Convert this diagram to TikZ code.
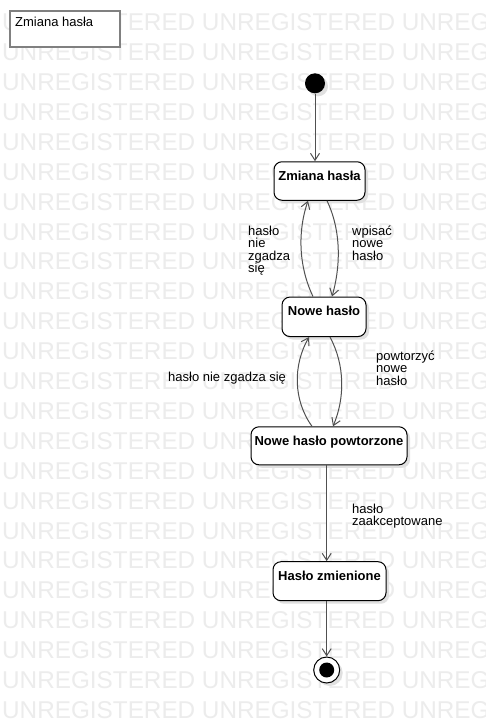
\documentclass[tikz,border=0pt]{standalone}
\usepackage{fontspec}
\setmainfont{Liberation Sans}
\usetikzlibrary{arrows.meta,shadows}
\definecolor{wmcol}{RGB}{236,236,236}
\definecolor{lncol}{RGB}{80,80,80}
\definecolor{notecol}{RGB}{128,128,128}
\begin{document}
\begin{tikzpicture}[x=1pt,y=-1pt,
  wmark/.style={anchor=base west,inner sep=0,text=wmcol,font=\fontsize{24.3}{26}\selectfont},
  shad/.style={drop shadow={shadow xshift=3pt,shadow yshift=-3pt,fill=black!12,opacity=1}},
  statebox/.style={draw=black,line width=1pt,fill=white,rounded corners=8pt,inner sep=0,shad},
  statetext/.style={font=\fontsize{13}{15}\bfseries\selectfont,inner sep=0,anchor=base},
  lbl/.style={font=\fontsize{13}{12.5}\selectfont,align=left,inner sep=0,anchor=base west},
  trans/.style={draw=lncol,line width=1pt,-{Straight Barb[length=7pt,width=9pt]}}
]
\useasboundingbox (0,0) rectangle (485,723);
\fill[white] (0,0) rectangle (485,723);
% watermark
\foreach \k in {0,...,23}{
  \node[wmark] (wm\k) at (2,{30.7+29.9*\k}) {UNREGISTERED UNREGISTERED UNREG};
}
% note
\node[draw=notecol,line width=2pt,fill=white,minimum width=110pt,minimum height=36.5pt,inner sep=0] (note) at (64.8,29.2) {};
\node[anchor=base west,inner sep=0,font=\fontsize{13}{15}\selectfont] (notetext) at (15,26) {Zmiana hasła};
% states
\node[circle,fill=black,minimum size=20pt,inner sep=0,shad] (init) at (315,83.3) {};
\node[statebox,minimum width=91pt,minimum height=38.5pt] (s1) at (319.5,181) {};
\node[statetext] (t1) at (319.5,180) {Zmiana hasła};
\node[statebox,minimum width=84pt,minimum height=39.5pt] (s2) at (324,316.8) {};
\node[statetext] (t2) at (324,315) {Nowe hasło};
\node[statebox,minimum width=156pt,minimum height=38pt] (s3) at (329,445.8) {};
\node[statetext] (t3) at (329,445) {Nowe hasło powtorzone};
\node[statebox,minimum width=113pt,minimum height=39pt] (s4) at (329.5,581.2) {};
\node[statetext] (t4) at (329.5,580) {Hasło zmienione};
\node[circle,draw=black,line width=1pt,fill=white,minimum size=26pt,inner sep=0,shad] (fin) at (326.7,670) {};
\node[circle,fill=black,minimum size=15pt,inner sep=0] (finin) at (fin) {};
% transitions
\draw[trans] (init.south) -- (init.south |- s1.north);
\draw[trans] ([xshift=-11pt]s2.north) .. controls (298,265) and (298,230) .. ([xshift=-11.5pt]s1.south);
\draw[trans] ([xshift=7.5pt]s1.south) .. controls (341,230) and (341,265) .. ([xshift=8pt]s2.north);
\draw[trans] ([xshift=-17pt]s3.north) .. controls (293,400) and (293,365) .. ([xshift=-15pt]s2.south);
\draw[trans] ([xshift=6pt]s2.south) .. controls (345,365) and (345,398) .. ([xshift=4pt]s3.north);
\draw[trans] (s3.south -| fin) -- (s4.north -| fin);
\draw[trans] (s4.south -| fin) -- (fin.north);
% labels (base anchor = baseline of last line)
\node[lbl] (l1) at (248,272.5) {hasło\\nie\\zgadza\\się};
\node[lbl] (l2) at (352,260) {wpisać\\nowe\\hasło};
\node[lbl] (l3) at (168,381) {hasło nie zgadza się};
\node[lbl] (l4) at (376,385) {powtorzyć\\nowe\\hasło};
\node[lbl] (l5) at (352,525.5) {hasło\\zaakceptowane};
\end{tikzpicture}
\end{document}
